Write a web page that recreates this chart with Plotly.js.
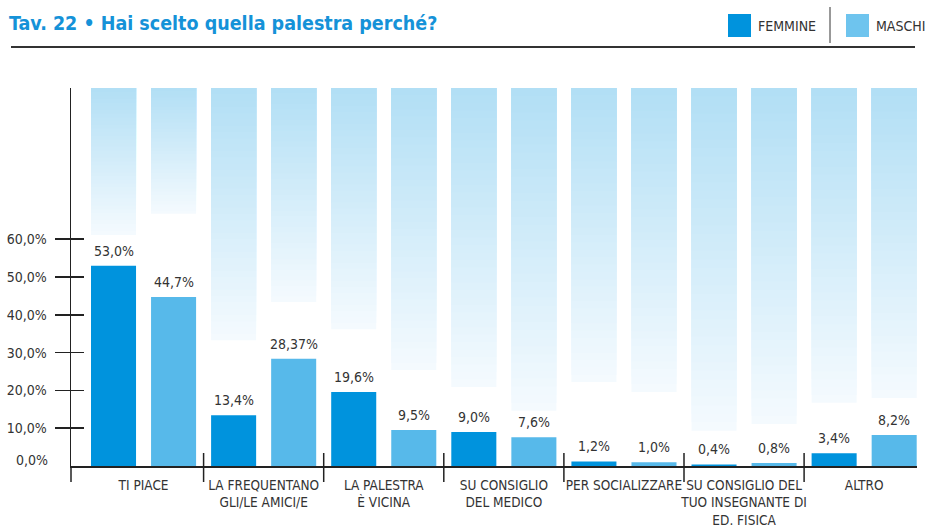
<!DOCTYPE html>
<html>
<head>
<meta charset="utf-8">
<script src="https://cdn.plot.ly/plotly-3.0.1.min.js"></script>
<style>
  html, body { margin: 0; padding: 0; background: #ffffff; }
  #chart { width: 926px; height: 532px; }
</style>
</head>
<body>
<div id="chart"></div>
<script>
// ---- data ----
const categories = [
  "TI PIACE",
  "LA FREQUENTANO<br>GLI/LE AMICI/E",
  "LA PALESTRA<br>È VICINA",
  "SU CONSIGLIO<br>DEL MEDICO",
  "PER SOCIALIZZARE",
  "SU CONSIGLIO DEL<br>TUO INSEGNANTE DI<br>ED. FISICA",
  "ALTRO"
];
const femmine = [53.0, 13.4, 19.6, 9.0, 1.2, 0.4, 3.4];
const maschi  = [44.7, 28.37, 9.5, 7.6, 1.0, 0.8, 8.2];
// decorative faded columns: level where each backdrop column ends (axis units)
const backdropF = [61.1, 33.3, 36.2, 20.9, 22.2, 9.3, 16.7];
const backdropM = [66.7, 43.4, 25.4, 14.6, 19.6, 11.1, 18.0];
const yTickVals = [10, 20, 30, 40, 50, 60];
const yTickText = ["10,0%", "20,0%", "30,0%", "40,0%", "50,0%", "60,0%"];
const seriesNames = ["FEMMINE", "MASCHI"];

// ---- styling ----
const FONT = "DejaVu Sans Condensed, Liberation Sans Narrow, Arial Narrow, sans-serif";
const TXT = "#333333";
const COL_F = "#0093dd";
const COL_M = "#57b9ea";
const TITLE_COL = "#1592d8";
const W = 926, H = 532;
const M = {l: 71, r: 9, t: 88, b: 66};
const PW = W - M.l - M.r, PH = H - M.t - M.b;
const YMAX = 100;
const BAR_W = 0.375, OFF_F = -0.4375, OFF_M = 0.0625;

function fmt(v) {
  const s = (Math.round(v * 10) === v * 10) ? v.toFixed(1) : v.toFixed(2);
  return s.replace('.', ',') + '%';
}
function px(x) { return (x - M.l) / PW; }
function py(y) { return (H - M.b - y) / PH; }

const idx = categories.map((_, i) => i);
const traces = [];

// gradient backdrop columns: overlapping slices, lighter at bottom, darker at top
const N = 40;
function mix(a, b, t) {
  const pa = [parseInt(a.slice(1,3),16), parseInt(a.slice(3,5),16), parseInt(a.slice(5,7),16)];
  const pb = [parseInt(b.slice(1,3),16), parseInt(b.slice(3,5),16), parseInt(b.slice(5,7),16)];
  const c = pa.map((v, k) => Math.round(v + (pb[k] - v) * t));
  return 'rgb(' + c.join(',') + ')';
}
const GRAD_BOTTOM = "#f4fafe", GRAD_TOP = "#b2dff5";
[[backdropF, OFF_F], [backdropM, OFF_M]].forEach(([bd, off]) => {
  for (let k = 0; k < N; k++) {
    const bases = bd.map(b => b + (YMAX - b) * k / N);
    traces.push({
      type: 'bar', x: idx, y: bases.map(b => YMAX - b), base: bases,
      width: BAR_W, offset: off,
      marker: {color: mix(GRAD_BOTTOM, GRAD_TOP, k / (N - 1)), line: {width: 0}},
      hoverinfo: 'skip', showlegend: false
    });
  }
});

const annotations = [];
// data bars + value labels
[[femmine, OFF_F, COL_F, seriesNames[0]], [maschi, OFF_M, COL_M, seriesNames[1]]].forEach(([vals, off, col, nm]) => {
  traces.push({
    type: 'bar', name: nm, x: idx, y: vals, width: BAR_W, offset: off,
    marker: {color: col, line: {width: 0}},
    hoverinfo: 'x+y', showlegend: false
  });
  vals.forEach((v, i) => {
    annotations.push({
      xref: 'x', yref: 'y', x: i + off + BAR_W / 2, y: v, yshift: 5,
      xanchor: 'center', yanchor: 'bottom', showarrow: false,
      text: fmt(v), font: {family: FONT, size: 14, color: TXT}
    });
  });
});

// empty trace to carry the inside-tick overlay axis
traces.push({type: 'scatter', x: [], y: [], yaxis: 'y2', showlegend: false, hoverinfo: 'skip'});

const shapes = [];
// top rule
shapes.push({type: 'line', xref: 'paper', yref: 'paper', x0: px(11), x1: px(915), y0: py(47), y1: py(47), line: {color: '#333333', width: 2}});
// axis extension below baseline
shapes.push({type: 'line', xref: 'paper', yref: 'paper', x0: 0, x1: 0, y0: py(482), y1: 0, line: {color: '#222222', width: 1.5}});
// category separators
for (let i = 0; i < categories.length - 1; i++) {
  shapes.push({type: 'line', xref: 'x', yref: 'paper', x0: i + 0.5, x1: i + 0.5, y0: py(482), y1: py(453), line: {color: '#222222', width: 1.5}});
}
// legend swatches and divider
shapes.push({type: 'rect', xref: 'paper', yref: 'paper', x0: px(728), x1: px(751), y0: py(37), y1: py(14), fillcolor: COL_F, line: {width: 0}});
shapes.push({type: 'rect', xref: 'paper', yref: 'paper', x0: px(846), x1: px(869), y0: py(37), y1: py(14), fillcolor: '#6ec4ee', line: {width: 0}});
shapes.push({type: 'line', xref: 'paper', yref: 'paper', x0: px(830), x1: px(830), y0: py(43), y1: py(7), line: {color: '#333333', width: 1}});

annotations.push(
  {xref: 'paper', yref: 'paper', x: px(756), y: py(26), xanchor: 'left', yanchor: 'middle', showarrow: false, text: seriesNames[0], font: {family: FONT, size: 14, color: TXT}},
  {xref: 'paper', yref: 'paper', x: px(874), y: py(26), xanchor: 'left', yanchor: 'middle', showarrow: false, text: seriesNames[1], font: {family: FONT, size: 14, color: TXT}},
  {xref: 'paper', yref: 'y', x: px(50), y: 0, yshift: 6, xanchor: 'right', yanchor: 'middle', showarrow: false, text: '0,0%', font: {family: FONT, size: 14, color: TXT}}
);

const layout = {
  width: W, height: H,
  margin: M,
  paper_bgcolor: '#ffffff', plot_bgcolor: 'rgba(0,0,0,0)',
  barmode: 'overlay',
  showlegend: false,
  title: {
    text: '<b>Tav. 22 • Hai scelto quella palestra perché?</b>',
    xref: 'container', yref: 'container', x: 9 / W, xanchor: 'left', y: 1 - 23 / H, yanchor: 'middle',
    font: {family: FONT, size: 19.5, color: TITLE_COL}
  },
  xaxis: {
    range: [-0.604, categories.length - 1 + 0.44],
    tickvals: idx, ticktext: categories, tickangle: 0, ticks: '',
    tickfont: {family: FONT, size: 13.5, color: TXT},
    showline: true, linecolor: '#222222', linewidth: 1.5,
    showgrid: false, zeroline: false, fixedrange: true,
    ticklabelstandoff: 6
  },
  yaxis: {
    range: [0, YMAX], tickvals: yTickVals, ticktext: yTickText,
    ticks: 'outside', ticklen: 15, tickwidth: 1.5, tickcolor: '#222222',
    tickfont: {family: FONT, size: 14, color: TXT},
    showline: true, linecolor: '#222222', linewidth: 1.5,
    showgrid: false, zeroline: false, fixedrange: true,
    ticklabelstandoff: 5
  },
  yaxis2: {
    range: [0, YMAX], overlaying: 'y', anchor: 'x', side: 'left',
    tickvals: yTickVals, ticks: 'inside', ticklen: 13, tickwidth: 1.5, tickcolor: '#222222',
    showticklabels: false, showline: false, showgrid: false, zeroline: false, fixedrange: true
  },
  shapes: shapes,
  annotations: annotations
};

Plotly.newPlot('chart', traces, layout, {displayModeBar: false, staticPlot: true});
</script>
</body>
</html>
